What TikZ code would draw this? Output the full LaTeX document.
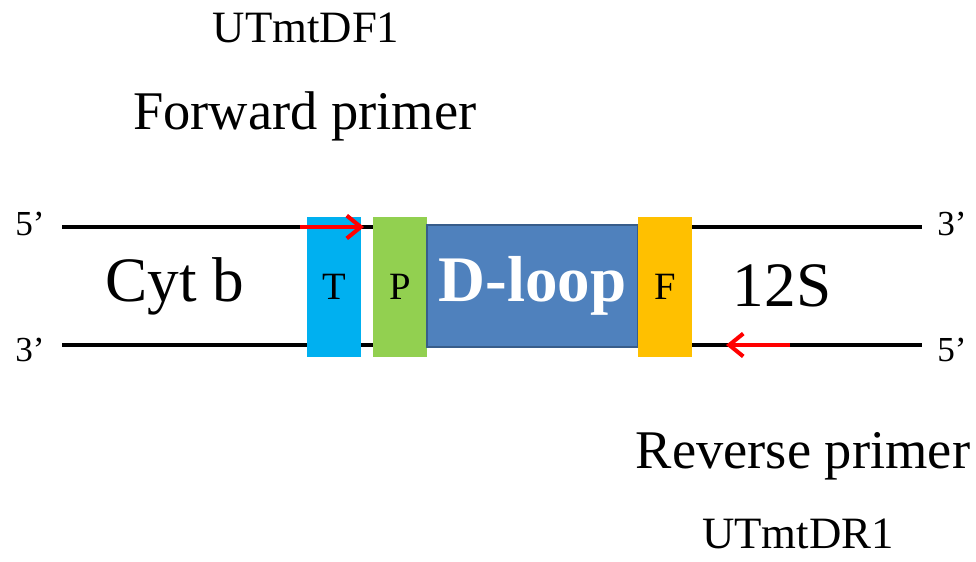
\documentclass[tikz,border=0pt]{standalone}
\usepackage{fontspec}
\setmainfont{Liberation Serif}
\usetikzlibrary{arrows.meta,positioning}
\definecolor{tbox}{RGB}{0,176,240}
\definecolor{pbox}{RGB}{146,208,80}
\definecolor{dloop}{RGB}{79,129,189}
\definecolor{dloopline}{RGB}{56,93,138}
\definecolor{fbox}{RGB}{255,192,0}
\definecolor{primer}{RGB}{255,0,0}

\begin{document}
\begin{tikzpicture}[
  x=0.02cm, y=-0.02cm,
  every node/.style={font=\fontsize{20}{22}\selectfont},
  region/.style={minimum width=1.08cm, minimum height=2.82cm, inner sep=0pt,
                 font=\fontsize{22}{24}\selectfont},
  strand/.style={line width=2.8pt, black},
  primarrow/.style={line width=2.3pt, primer, -{Straight Barb[length=8pt, width=13pt, line width=2.3pt]}},
  bigtext/.style={font=\fontsize{36}{40}\selectfont},
  primtext/.style={font=\fontsize{31}{34}\selectfont},
  idtext/.style={inner sep=0pt, font=\fontsize{25.5}{28}\selectfont}
]
\useasboundingbox (0,0) rectangle (976,561);

% strand ends
\node (top5) at (30, 224) {5'};
\node (bot3) at (30, 350) {3'};
\node (top3) at (952, 224) {3'};
\node (bot5) at (952, 350) {5'};

\coordinate (tl) at (62, 227);
\coordinate (tr) at (922, 227);
\coordinate (bl) at (62, 345);
\coordinate (br) at (922, 345);

\draw[strand] (tl) -- (tr);
\draw[strand] (bl) -- (br);

% regions
\node[region, fill=tbox] (T) at (334, 287) {T};
\node[region, fill=pbox] (P) at (400, 287) {P};
\node[draw=dloopline, line width=1pt, fill=dloop, minimum width=4.22cm,
      minimum height=2.44cm, inner sep=0pt, text=white,
      font=\fontsize{37}{40}\selectfont\bfseries] (D) at (532.5, 286) {D-loop};
\node[region, fill=fbox] (F) at (665, 287) {F};

\node[bigtext] (cytb) at (175, 286) {Cyt b};
\node[bigtext] (rrna) at (782, 286) {12S};

% primers
\coordinate (fs) at (300, 227);
\coordinate (fe) at (364, 227);
\coordinate (rs) at (790, 345);
\coordinate (re) at (726, 345);
\draw[primarrow] (fs) -- (fe);
\draw[primarrow] (rs) -- (re);

\node[primtext] (fwd) at (305, 116) {Forward primer};
\node[idtext] (fwdid) at (306, 28) {UTmtDF1};
\node[primtext] (rev) at (803, 456) {Reverse primer};
\node[idtext] (revid) at (798, 534) {UTmtDR1};

\end{tikzpicture}
\end{document}
